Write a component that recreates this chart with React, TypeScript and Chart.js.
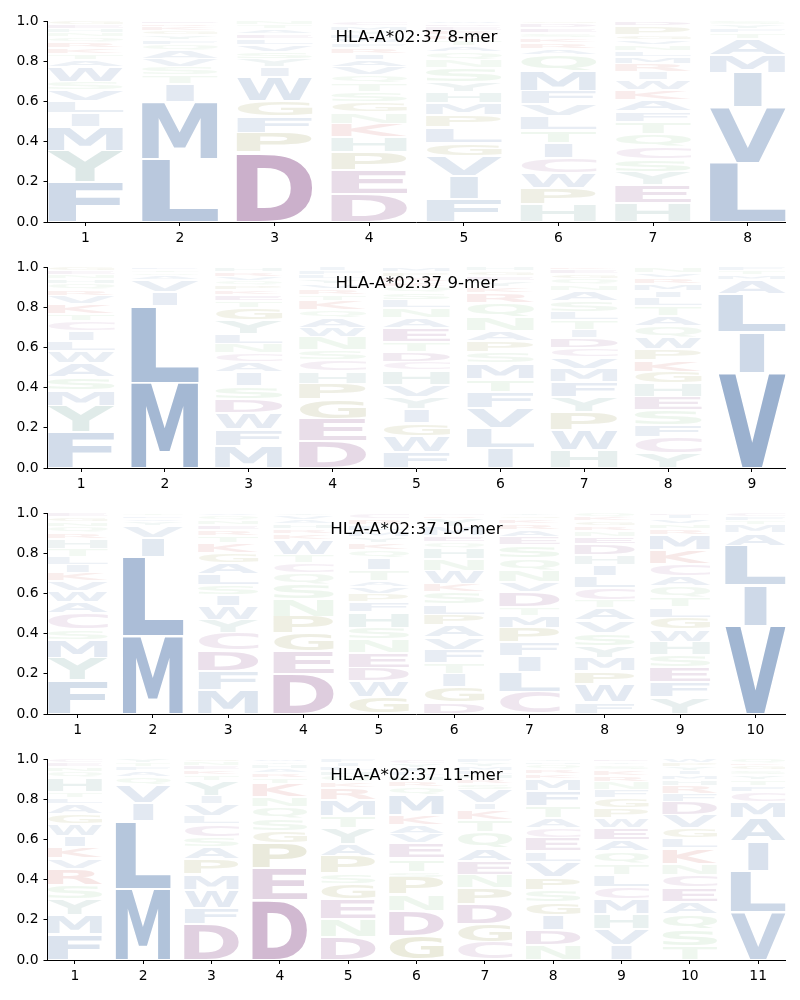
import React, { useEffect, useRef } from "react";
import { Chart, registerables } from "chart.js";

Chart.register(...registerables);
Chart.defaults.font.family = '"DejaVu Sans", sans-serif';

// ---------- data (letters listed bottom -> top, heights are probabilities) ----------
const titles = ["HLA-A*02:37 8-mer", "HLA-A*02:37 9-mer", "HLA-A*02:37 10-mer", "HLA-A*02:37 11-mer"];
const yTicks = [0, 0.2, 0.4, 0.6, 0.8, 1.0];

const mer8Letters = [
  "FYMILVSWATKRQNHEG",
  "LMITSVAQFYGKRE",
  "DPFGWIYSVLEATN",
  "DEPHKNGSTQVAIRFWLYMC",
  "FIVGLPMHYSNQATKREDW",
  "HPWCITLVFMQARKSEDG",
  "HEYSCQTFAKWIRMLNVGPD",
  "LVIMATFYS",
];
const mer8Heights = [
  [0.2, 0.155, 0.12, 0.065, 0.06, 0.055, 0.04, 0.075, 0.035, 0.03, 0.03, 0.03, 0.025, 0.02, 0.02, 0.02, 0.02],
  [0.315, 0.28, 0.09, 0.045, 0.04, 0.04, 0.04, 0.03, 0.025, 0.025, 0.02, 0.02, 0.015, 0.015],
  [0.345, 0.1, 0.08, 0.075, 0.12, 0.05, 0.04, 0.035, 0.035, 0.03, 0.025, 0.025, 0.02, 0.02],
  [0.14, 0.12, 0.09, 0.075, 0.065, 0.055, 0.05, 0.05, 0.045, 0.04, 0.04, 0.035, 0.03, 0.03, 0.025, 0.02, 0.02, 0.02, 0.025, 0.025],
  [0.115, 0.115, 0.1, 0.065, 0.075, 0.06, 0.06, 0.055, 0.05, 0.07, 0.04, 0.04, 0.03, 0.03, 0.025, 0.02, 0.02, 0.015, 0.015],
  [0.09, 0.08, 0.075, 0.075, 0.075, 0.065, 0.065, 0.06, 0.065, 0.1, 0.08, 0.03, 0.03, 0.025, 0.025, 0.025, 0.02, 0.015],
  [0.095, 0.09, 0.065, 0.065, 0.06, 0.065, 0.06, 0.05, 0.055, 0.05, 0.05, 0.04, 0.04, 0.035, 0.03, 0.03, 0.025, 0.025, 0.045, 0.025],
  [0.295, 0.275, 0.17, 0.09, 0.08, 0.03, 0.02, 0.02, 0.02],
];

const mer9Letters = [
  "FYMSAWLICTKVRQHNEG",
  "MLIVAQTF",
  "MFWDSIACNLYGTEKPQVRH",
  "DEGPHCSNWAQKTRVYLFI",
  "FWGIYVHCDTEANLSQKRPM",
  "ILVFTMSPANQRKYEGH",
  "HWPYFMVCDITLSANQGEK",
  "YCFSEHGKPWQATLIMRVN",
  "VILAMTF",
];
const mer9Heights = [
  [0.18, 0.13, 0.075, 0.065, 0.07, 0.06, 0.05, 0.05, 0.05, 0.035, 0.05, 0.04, 0.03, 0.03, 0.025, 0.02, 0.02, 0.02],
  [0.425, 0.38, 0.07, 0.06, 0.02, 0.015, 0.015, 0.015],
  [0.109, 0.083, 0.083, 0.07, 0.065, 0.065, 0.05, 0.045, 0.045, 0.05, 0.07, 0.06, 0.035, 0.03, 0.025, 0.025, 0.02, 0.02, 0.025, 0.025],
  [0.135, 0.11, 0.095, 0.08, 0.06, 0.055, 0.05, 0.065, 0.045, 0.05, 0.04, 0.045, 0.03, 0.03, 0.025, 0.025, 0.02, 0.02, 0.02],
  [0.08, 0.08, 0.065, 0.07, 0.06, 0.06, 0.07, 0.04, 0.05, 0.05, 0.07, 0.05, 0.05, 0.04, 0.035, 0.03, 0.025, 0.025, 0.025, 0.025],
  [0.1, 0.1, 0.1, 0.08, 0.065, 0.075, 0.055, 0.055, 0.05, 0.07, 0.07, 0.05, 0.03, 0.03, 0.025, 0.025, 0.02],
  [0.09, 0.1, 0.09, 0.075, 0.075, 0.065, 0.055, 0.045, 0.05, 0.04, 0.05, 0.04, 0.055, 0.05, 0.03, 0.03, 0.025, 0.02, 0.015],
  [0.075, 0.08, 0.06, 0.075, 0.065, 0.065, 0.06, 0.055, 0.055, 0.06, 0.055, 0.05, 0.05, 0.04, 0.035, 0.035, 0.03, 0.025, 0.03],
  [0.475, 0.2, 0.19, 0.07, 0.025, 0.02, 0.02],
];

const mer10Letters = [
  "FYMSCAWVKILTHRQNGE",
  "MLIVYAFT",
  "MFDCYWISLAGKTRENQV",
  "DEGPNSQCTWKRHAVY",
  "GWDENSHFPVATIQKYMLRC",
  "DGITFVAPLSKWNHQEMYRC",
  "CLIFPMTDVNQSEARKGY",
  "FWPMYSVATCLIHDENRGKQ",
  "YFESHWGLTQACKMRNVID",
  "VILAMTFC",
];
const mer10Heights = [
  [0.17, 0.11, 0.09, 0.05, 0.08, 0.055, 0.055, 0.05, 0.04, 0.04, 0.04, 0.04, 0.05, 0.03, 0.03, 0.025, 0.025, 0.02],
  [0.39, 0.39, 0.095, 0.06, 0.02, 0.015, 0.015, 0.015],
  [0.12, 0.095, 0.1, 0.09, 0.065, 0.065, 0.055, 0.05, 0.055, 0.055, 0.05, 0.05, 0.035, 0.03, 0.025, 0.025, 0.02, 0.015],
  [0.2, 0.11, 0.09, 0.085, 0.085, 0.075, 0.055, 0.05, 0.04, 0.075, 0.03, 0.025, 0.025, 0.02, 0.02, 0.015],
  [0.085, 0.08, 0.065, 0.075, 0.065, 0.06, 0.075, 0.05, 0.04, 0.035, 0.03, 0.055, 0.06, 0.04, 0.035, 0.03, 0.03, 0.03, 0.03, 0.03],
  [0.06, 0.075, 0.065, 0.055, 0.065, 0.06, 0.06, 0.055, 0.05, 0.06, 0.04, 0.065, 0.06, 0.055, 0.03, 0.03, 0.045, 0.04, 0.015, 0.015],
  [0.11, 0.1, 0.08, 0.065, 0.075, 0.06, 0.04, 0.075, 0.05, 0.06, 0.06, 0.065, 0.04, 0.035, 0.03, 0.025, 0.015, 0.015],
  [0.06, 0.09, 0.065, 0.065, 0.06, 0.065, 0.06, 0.06, 0.04, 0.06, 0.06, 0.055, 0.05, 0.055, 0.035, 0.03, 0.025, 0.025, 0.02, 0.02],
  [0.085, 0.075, 0.075, 0.06, 0.065, 0.06, 0.06, 0.05, 0.05, 0.055, 0.05, 0.06, 0.07, 0.075, 0.03, 0.025, 0.025, 0.02, 0.01],
  [0.44, 0.2, 0.195, 0.065, 0.04, 0.02, 0.02, 0.02],
];

const mer11Letters = [
  "FMYSRVKIWGALTHQNEC",
  "MLIVQAFTY",
  "DFWMPASCLVIYTKENG",
  "DEPGSQNKTRAHYW",
  "DNEGSPAYTMRKQHLIF",
  "GDNPSTEVAKMQRHLIYC",
  "CGDPNEAQTKIVSRHLMYF",
  "NDIGSPVLECATFMKRQHY",
  "IVHMCLTQAEWPGFNRKSYD",
  "TSQAECNKLGVDFRHMIYPW",
  "VLIAMCFTYSGKQ",
];
const mer11Heights = [
  [0.13, 0.095, 0.08, 0.07, 0.08, 0.05, 0.055, 0.055, 0.06, 0.05, 0.05, 0.03, 0.03, 0.07, 0.03, 0.025, 0.02, 0.02],
  [0.355, 0.335, 0.09, 0.09, 0.04, 0.03, 0.02, 0.02, 0.02],
  [0.18, 0.08, 0.09, 0.075, 0.075, 0.06, 0.05, 0.065, 0.04, 0.06, 0.04, 0.075, 0.03, 0.025, 0.02, 0.02, 0.015],
  [0.3, 0.157, 0.125, 0.06, 0.06, 0.06, 0.05, 0.065, 0.03, 0.025, 0.02, 0.02, 0.014, 0.014],
  [0.115, 0.09, 0.1, 0.075, 0.05, 0.085, 0.06, 0.08, 0.06, 0.08, 0.06, 0.03, 0.03, 0.025, 0.02, 0.02, 0.02],
  [0.12, 0.125, 0.08, 0.085, 0.03, 0.065, 0.075, 0.045, 0.045, 0.05, 0.1, 0.04, 0.03, 0.025, 0.02, 0.02, 0.02, 0.025],
  [0.09, 0.09, 0.1, 0.08, 0.065, 0.065, 0.065, 0.08, 0.06, 0.05, 0.035, 0.065, 0.03, 0.025, 0.02, 0.02, 0.02, 0.02, 0.02],
  [0.075, 0.075, 0.075, 0.065, 0.06, 0.065, 0.075, 0.05, 0.065, 0.05, 0.05, 0.06, 0.075, 0.06, 0.025, 0.025, 0.02, 0.015, 0.015],
  [0.075, 0.08, 0.075, 0.075, 0.06, 0.06, 0.055, 0.06, 0.055, 0.06, 0.05, 0.05, 0.05, 0.04, 0.04, 0.03, 0.03, 0.025, 0.015, 0.015],
  [0.07, 0.085, 0.075, 0.06, 0.07, 0.065, 0.055, 0.075, 0.05, 0.05, 0.065, 0.065, 0.04, 0.04, 0.03, 0.025, 0.02, 0.02, 0.02, 0.02],
  [0.24, 0.205, 0.145, 0.115, 0.08, 0.05, 0.03, 0.03, 0.025, 0.025, 0.02, 0.015, 0.02],
];

const panelLetters = [mer8Letters, mer9Letters, mer10Letters, mer11Letters];
const panelHeights = [mer8Heights, mer9Heights, mer10Heights, mer11Heights];

// ---------- styling ----------
const GROUP_RGB: Record<string, [number, number, number]> = {
  A: [98, 133, 180], V: [98, 133, 180], L: [98, 133, 180], I: [98, 133, 180],
  M: [98, 133, 180], F: [98, 133, 180], W: [98, 133, 180],
  D: [148, 92, 148], E: [148, 92, 148],
  C: [175, 130, 175],
  S: [150, 200, 150], T: [150, 200, 150], N: [150, 200, 150], Q: [150, 200, 150],
  Y: [120, 165, 160], H: [120, 165, 160],
  K: [205, 110, 105], R: [205, 110, 105],
  G: [160, 160, 95], P: [160, 160, 95],
};

function letterColor(letter: string, h: number): string {
  const rgb = GROUP_RGB[letter] || [120, 120, 120];
  const a = Math.min(1, 0.07 + 1.2 * h);
  return `rgba(${rgb[0]},${rgb[1]},${rgb[2]},${a.toFixed(3)})`;
}

const GLYPH_FONT = 'bold 100px "DejaVu Sans"';
const glyphCache: Record<string, { l: number; r: number; a: number; d: number }> = {};

function measureGlyph(ctx: CanvasRenderingContext2D, letter: string) {
  if (!glyphCache[letter]) {
    const m = ctx.measureText(letter);
    glyphCache[letter] = {
      l: m.actualBoundingBoxLeft,
      r: m.actualBoundingBoxRight,
      a: m.actualBoundingBoxAscent,
      d: m.actualBoundingBoxDescent,
    };
  }
  return glyphCache[letter];
}

const logoPlugin = {
  id: "logoGlyphs",
  afterDatasetsDraw(chart: any) {
    const ctx: CanvasRenderingContext2D = chart.ctx;
    const area = chart.chartArea;
    ctx.save();
    ctx.beginPath();
    ctx.rect(area.left, area.top, area.right - area.left, area.bottom - area.top);
    ctx.clip();
    ctx.font = GLYPH_FONT;
    ctx.textAlign = "left";
    ctx.textBaseline = "alphabetic";
    const e = measureGlyph(ctx, "E");
    const eW = e.l + e.r;
    chart.data.datasets.forEach((ds: any, i: number) => {
      const meta = chart.getDatasetMeta(i);
      meta.data.forEach((el: any, j: number) => {
        const letter = ds.letters[j];
        const h = ds.data[j].y;
        const p = el.getProps(["x", "y", "base", "width"], true);
        const top = Math.min(p.y, p.base);
        const bottom = Math.max(p.y, p.base);
        const boxH = bottom - top;
        const pad = Math.min(1, boxH * 0.2);
        const gTop = top + pad;
        const gH = boxH - 2 * pad;
        if (gH <= 0) return;
        const g = measureGlyph(ctx, letter);
        const gw = g.l + g.r;
        const gh = g.a + g.d;
        const sx = p.width / Math.max(gw, eW);
        const sy = gH / gh;
        const drawW = gw * sx;
        const left = p.x - drawW / 2;
        ctx.save();
        ctx.translate(left, gTop);
        ctx.scale(sx, sy);
        ctx.fillStyle = letterColor(letter, h);
        ctx.fillText(letter, g.l, g.a);
        ctx.restore();
      });
    });
    ctx.restore();
  },
  afterDraw(chart: any) {
    const ctx: CanvasRenderingContext2D = chart.ctx;
    const area = chart.chartArea;
    ctx.save();
    ctx.font = '16.67px "DejaVu Sans"';
    ctx.fillStyle = "#000";
    ctx.textAlign = "center";
    ctx.textBaseline = "alphabetic";
    ctx.fillText(chart.options.plugins.logoTitle.text, (area.left + area.right) / 2, area.top + 21);
    ctx.restore();
  },
};

function LogoPanel({ index }: { index: number }) {
  const ref = useRef<HTMLCanvasElement>(null);
  useEffect(() => {
    const letters = panelLetters[index];
    const heights = panelHeights[index];
    const n = letters.length;
    const positions = letters.map((_, i) => i + 1);
    const maxLen = Math.max(...letters.map((s) => s.length));
    const datasets: any[] = [];
    for (let k = 0; k < maxLen; k++) {
      const data: any[] = [];
      const ls: string[] = [];
      letters.forEach((s, p) => {
        if (k < s.length) {
          data.push({ x: p + 1, y: heights[p][k] });
          ls.push(s[k]);
        }
      });
      datasets.push({
        data,
        letters: ls,
        backgroundColor: "rgba(0,0,0,0)",
        borderWidth: 0,
        stack: "logo",
        categoryPercentage: 1,
        barPercentage: 0.8,
      });
    }
    const tickFont = { family: '"DejaVu Sans"', size: 13.9 };
    const chart = new Chart(ref.current as HTMLCanvasElement, {
      type: "bar",
      data: { datasets },
      plugins: [logoPlugin as any],
      options: {
        responsive: false,
        animation: false,
        devicePixelRatio: 1,
        layout: { padding: { top: 21, right: 14.5, bottom: 0, left: 0 } },
        plugins: {
          legend: { display: false },
          tooltip: { enabled: false },
          title: { display: false },
          logoTitle: { text: titles[index] },
        } as any,
        scales: {
          x: {
            type: "linear",
            min: 0.6,
            max: n + 0.4,
            offset: false,
            stacked: true,
            grid: { display: true, drawOnChartArea: false, drawTicks: true, tickLength: 4, color: "#000", offset: false },
            border: { display: true, color: "#000", width: 1 },
            ticks: { color: "#000", font: tickFont, padding: 4, autoSkip: false, maxRotation: 0, callback: (v: any) => String(v) },
            afterBuildTicks: (s: any) => {
              s.ticks = positions.map((v) => ({ value: v }));
            },
            afterFit: (s: any) => {
              s.height = 24;
            },
          },
          y: {
            type: "linear",
            min: 0,
            max: 1,
            stacked: true,
            grid: { display: true, drawOnChartArea: false, drawTicks: true, tickLength: 4, color: "#000" },
            border: { display: true, color: "#000", width: 1 },
            ticks: { color: "#000", font: tickFont, padding: 5, callback: (v: any) => Number(v).toFixed(1) },
            afterBuildTicks: (s: any) => {
              s.ticks = yTicks.map((v) => ({ value: v }));
            },
            afterFit: (s: any) => {
              s.width = 47.5;
            },
          },
        } as any,
      },
    });
    return () => chart.destroy();
  }, [index]);
  return <canvas ref={ref} width={800} height={246} style={{ display: "block", width: 800, height: 246 }} />;
}

export default function App() {
  return (
    <div style={{ position: "absolute", left: 0, top: 0, width: 800, height: 1000, background: "#fff" }}>
      {titles.map((_, i) => (
        <LogoPanel key={i} index={i} />
      ))}
    </div>
  );
}
